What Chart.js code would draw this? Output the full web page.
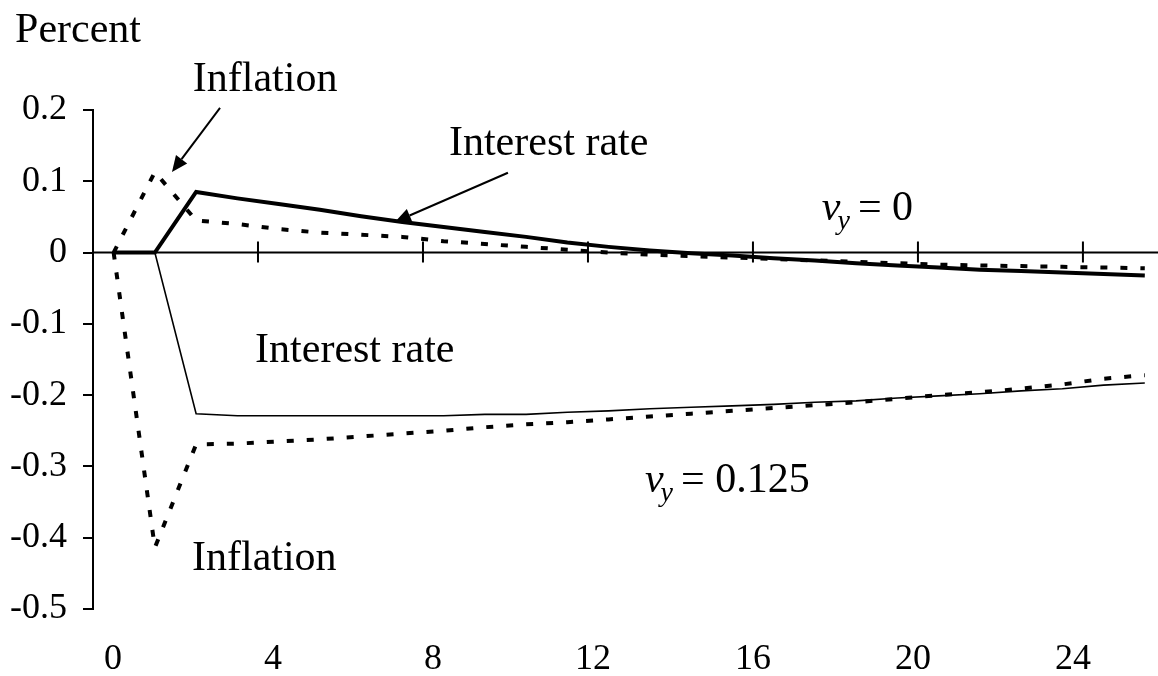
<!DOCTYPE html>
<html>
<head>
<meta charset="utf-8">
<title>Interest rate and inflation responses</title>
<script src="https://cdn.jsdelivr.net/npm/chart.js@4"></script>
<style>
    html, body { margin: 0; padding: 0; background: #fff; }
    #wrap { width: 1158px; height: 676px; position: relative; }
</style>
</head>
<body>
<div id="wrap"><canvas id="chart"></canvas></div>
<script>
// periods after the shock
const periods = [0, 1, 2, 3, 4, 5, 6, 7, 8, 9, 10, 11, 12, 13, 14, 15, 16, 17, 18, 19, 20, 21, 22, 23, 24, 25];

// nu_y = 0
const rateNoOutput = [0, 0, 0.085, 0.076, 0.068, 0.060, 0.051, 0.043, 0.036, 0.029, 0.022, 0.014, 0.008, 0.003, -0.001, -0.004, -0.008, -0.011, -0.015, -0.018, -0.021, -0.024, -0.026, -0.028, -0.030, -0.032];
const inflNoOutput = [0, 0.113, 0.045, 0.040, 0.033, 0.028, 0.025, 0.022, 0.016, 0.012, 0.008, 0.004, 0.000, -0.003, -0.005, -0.007, -0.009, -0.011, -0.013, -0.015, -0.017, -0.018, -0.019, -0.020, -0.021, -0.022];

// nu_y = 0.125
const rateOutput = [0, 0, -0.226, -0.229, -0.229, -0.229, -0.229, -0.229, -0.229, -0.227, -0.227, -0.224, -0.222, -0.219, -0.217, -0.215, -0.213, -0.210, -0.208, -0.204, -0.201, -0.198, -0.194, -0.191, -0.186, -0.183];
const inflOutput = [0, -0.414, -0.269, -0.268, -0.265, -0.262, -0.258, -0.254, -0.250, -0.245, -0.241, -0.238, -0.234, -0.230, -0.226, -0.222, -0.218, -0.214, -0.210, -0.205, -0.200, -0.196, -0.191, -0.185, -0.177, -0.172];

// axes
const yTicks = [0.2, 0.1, 0, -0.1, -0.2, -0.3, -0.4, -0.5];
const xLabels = [0, 4, 8, 12, 16, 20, 24];
const xTickMarks = [3.5, 7.5, 11.5, 15.5, 19.5, 23.5];

// text labels and arrows, in data units
const notes = [
    { text: 'Percent', x: -2.39, y: 0.295 },
    { text: 'Inflation', x: 1.92, y: 0.227 },
    { text: 'Interest rate', x: 8.13, y: 0.137 },
    { text: 'Interest rate', x: 3.43, y: -0.1535 },
    { text: 'Inflation', x: 1.9, y: -0.445 }
];
const nuNotes = [
    { value: '0', x: 17.17, y: 0.046 },
    { value: '0.125', x: 12.88, y: -0.336 }
];
const arrows = [
    { x1: 2.58, y1: 0.203, x2: 1.415, y2: 0.113 },
    { x1: 9.56, y1: 0.112, x2: 6.82, y2: 0.043 }
];

const serif = "'Liberation Serif', 'Times New Roman', serif";

function toPoints(values) {
    return periods.map((p, i) => ({ x: p, y: values[i] }));
}

// zero line with its tick marks, text and arrows
const decorations = {
    id: 'decorations',
    beforeDatasetsDraw(chart) {
        const ctx = chart.ctx;
        const xs = chart.scales.x;
        const ys = chart.scales.y;
        const y0 = ys.getPixelForValue(0);
        ctx.save();
        ctx.strokeStyle = '#000';
        ctx.lineWidth = 2;
        ctx.beginPath();
        ctx.moveTo(chart.chartArea.left, y0);
        ctx.lineTo(chart.width, y0);
        xTickMarks.forEach(v => {
            const px = xs.getPixelForValue(v);
            ctx.moveTo(px, y0 - 11);
            ctx.lineTo(px, y0 + 10);
        });
        ctx.stroke();
        ctx.restore();
    },
    afterDraw(chart) {
        const ctx = chart.ctx;
        const xs = chart.scales.x;
        const ys = chart.scales.y;
        ctx.save();
        ctx.fillStyle = '#000';
        ctx.textBaseline = 'alphabetic';
        ctx.textAlign = 'left';

        ctx.font = '42px ' + serif;
        notes.forEach(n => {
            ctx.fillText(n.text, xs.getPixelForValue(n.x), ys.getPixelForValue(n.y));
        });

        nuNotes.forEach(n => {
            let px = xs.getPixelForValue(n.x);
            const py = ys.getPixelForValue(n.y);
            ctx.font = 'italic 42px ' + serif;
            ctx.fillText('\u03BD', px, py);
            px += ctx.measureText('\u03BD').width - 3;
            ctx.font = 'italic 28px ' + serif;
            ctx.fillText('y', px, py + 9);
            px += ctx.measureText('y').width + 8;
            ctx.font = '42px ' + serif;
            ctx.fillText('= ' + n.value, px, py);
        });

        ctx.strokeStyle = '#000';
        ctx.lineWidth = 2;
        arrows.forEach(a => {
            const x1 = xs.getPixelForValue(a.x1), y1 = ys.getPixelForValue(a.y1);
            const x2 = xs.getPixelForValue(a.x2), y2 = ys.getPixelForValue(a.y2);
            const ang = Math.atan2(y2 - y1, x2 - x1);
            const len = 16, half = 7;
            const bx = x2 - len * Math.cos(ang), by = y2 - len * Math.sin(ang);
            ctx.beginPath();
            ctx.moveTo(x1, y1);
            ctx.lineTo(bx, by);
            ctx.stroke();
            ctx.beginPath();
            ctx.moveTo(x2, y2);
            ctx.lineTo(bx + half * Math.sin(ang), by - half * Math.cos(ang));
            ctx.lineTo(bx - half * Math.sin(ang), by + half * Math.cos(ang));
            ctx.closePath();
            ctx.fill();
        });
        ctx.restore();
    }
};

new Chart(document.getElementById('chart'), {
    type: 'line',
    data: {
        datasets: [
            {
                label: 'Interest rate, nu_y = 0',
                data: toPoints(rateNoOutput),
                borderColor: '#000',
                borderWidth: 4,
                pointRadius: 0
            },
            {
                label: 'Inflation, nu_y = 0',
                data: toPoints(inflNoOutput),
                borderColor: '#000',
                borderWidth: 4,
                borderDash: [7, 13],
                pointRadius: 0
            },
            {
                label: 'Interest rate, nu_y = 0.125',
                data: toPoints(rateOutput),
                borderColor: '#000',
                borderWidth: 1.6,
                pointRadius: 0
            },
            {
                label: 'Inflation, nu_y = 0.125',
                data: toPoints(inflOutput),
                borderColor: '#000',
                borderWidth: 4,
                borderDash: [7, 13],
                pointRadius: 0
            }
        ]
    },
    options: {
        responsive: true,
        maintainAspectRatio: false,
        animation: false,
        layout: { padding: { top: 110, right: 0, left: 0, bottom: 0 } },
        plugins: {
            legend: { display: false },
            tooltip: { enabled: false }
        },
        scales: {
            x: {
                type: 'linear',
                display: false,
                min: -0.5,
                max: 25.32
            },
            x2: {
                type: 'linear',
                position: 'bottom',
                min: -0.5,
                max: 26.125,
                grid: { display: false, drawTicks: false },
                border: { display: false },
                afterBuildTicks: scale => { scale.ticks = xLabels.map(v => ({ value: v })); },
                afterFit: scale => { scale.height = 67; },
                ticks: {
                    color: '#000',
                    padding: 29,
                    maxRotation: 0,
                    autoSkip: false,
                    font: { family: serif, size: 36 },
                    callback: v => String(v)
                }
            },
            y: {
                type: 'linear',
                min: -0.5,
                max: 0.2,
                afterBuildTicks: scale => { scale.ticks = yTicks.map(v => ({ value: v })); },
                afterFit: scale => { scale.width = 93; },
                grid: {
                    drawOnChartArea: false,
                    drawTicks: true,
                    tickLength: 10,
                    color: '#000',
                    lineWidth: 2
                },
                border: { display: true, color: '#000', width: 2 },
                ticks: {
                    color: '#000',
                    padding: 16,
                    autoSkip: false,
                    font: { family: serif, size: 36 },
                    callback: v => String(v)
                }
            }
        }
    },
    plugins: [decorations]
});
</script>
</body>
</html>
